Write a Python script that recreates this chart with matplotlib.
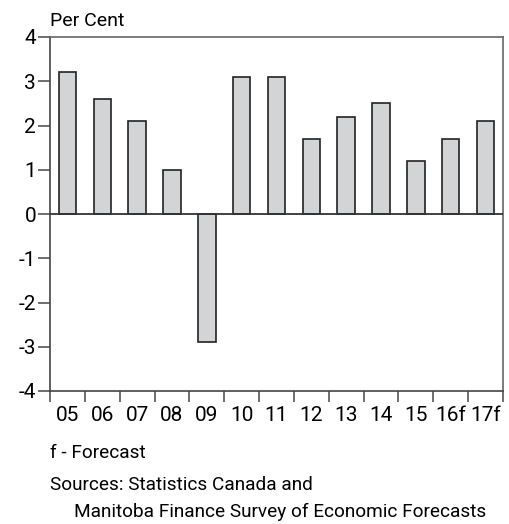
import matplotlib
matplotlib.use("Agg")
import matplotlib.pyplot as plt
import numpy as np

categories = ["05", "06", "07", "08", "09", "10", "11", "12", "13", "14", "15", "16f", "17f"]
values = [3.2, 2.6, 2.1, 1.0, -2.9, 3.1, 3.1, 1.7, 2.2, 2.5, 1.2, 1.7, 2.1]
yticks = [-4, -3, -2, -1, 0, 1, 2, 3, 4]

plt.rcParams['font.family'] = ['Roboto', 'DejaVu Sans']
W, H = 509, 524
fig = plt.figure(figsize=(W / 100, H / 100), dpi=100)
ax = fig.add_axes([50 / W, 1 - 391 / H, (503 - 50) / W, (391 - 37) / H])

x = np.arange(len(categories))
ax.bar(x, values, width=0.5, color="#d3d4d6", edgecolor="#222222", linewidth=1.2, zorder=2)
ax.axhline(0, color="#333333", linewidth=1.3, zorder=3)

ax.set_xlim(-0.5, len(categories) - 0.5)
ax.set_ylim(-4, 4)
ax.set_yticks(yticks)
ax.set_yticklabels([str(v) for v in yticks], fontsize=15)
ax.set_xticks(x)
ax.set_xticklabels(categories, fontsize=15)
ax.tick_params(axis="x", length=0, pad=11)
ax.set_xticks(np.arange(-0.5, len(categories)), minor=True)
ax.tick_params(axis="x", which="minor", length=8, width=1.2, color="#555555", direction="out")
ax.tick_params(axis="y", length=9, width=1.2, color="#555555", direction="out", pad=1)

for s in ax.spines.values():
    s.set_color("#666666")
    s.set_linewidth(1.2)
ax.spines["left"].set_color("#444444")
ax.spines["bottom"].set_color("#444444")

fig.text(50 / W, 1 - 21 / H, "Per Cent", fontsize=14, va="center", ha="left")
fig.text(50 / W, 1 - 453 / H, "f - Forecast", fontsize=13.7, va="center", ha="left")
fig.text(50 / W, 1 - 485 / H, "Sources: Statistics Canada and", fontsize=13.7, va="center", ha="left")
fig.text(74 / W, 1 - 512 / H, "Manitoba Finance Survey of Economic Forecasts", fontsize=13.7, va="center", ha="left")

fig.savefig("out.png", dpi=100)
